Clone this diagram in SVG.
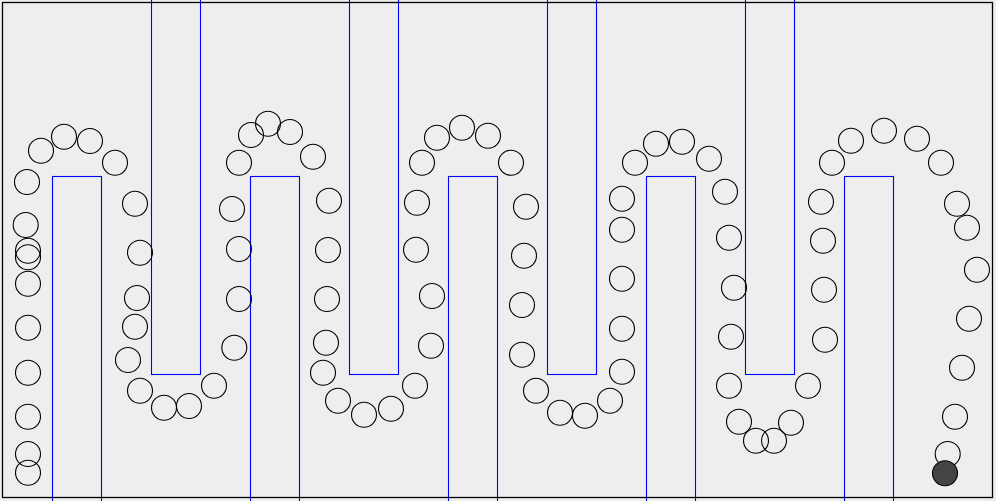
<svg xmlns="http://www.w3.org/2000/svg" width="996" height="501" viewBox="0 0 996 501">
<style>
.wall{fill:none;stroke:#0000ff;stroke-width:1.1}
.c{fill:none;stroke:#000;stroke-width:1.1}
.ball{fill:#444;stroke:#000;stroke-width:1.1}
</style>
<rect x="0" y="0" width="996" height="501" fill="#eeeeee"/>
<g id="walls">
<rect class="wall" x="52.5" y="176.5" width="49" height="330"/>
<rect class="wall" x="250.5" y="176.5" width="49" height="330"/>
<rect class="wall" x="448.5" y="176.5" width="49" height="330"/>
<rect class="wall" x="646.5" y="176.5" width="49" height="330"/>
<rect class="wall" x="844.5" y="176.5" width="49" height="330"/>
<rect class="wall" x="151.5" y="-10" width="49" height="384.5"/>
<rect class="wall" x="349.5" y="-10" width="49" height="384.5"/>
<rect class="wall" x="547.5" y="-10" width="49" height="384.5"/>
<rect class="wall" x="745.5" y="-10" width="49" height="384.5"/>
</g>
<rect id="border" x="2.5" y="2.5" width="990" height="495" fill="none" stroke="#000" stroke-width="1.3"/>
<g id="trail">
<circle class="c" cx="28" cy="472.7" r="12.5"/>
<circle class="c" cx="28" cy="454" r="12.5"/>
<circle class="c" cx="28" cy="416.7" r="12.5"/>
<circle class="c" cx="28" cy="372.7" r="12.5"/>
<circle class="c" cx="28" cy="327.7" r="12.5"/>
<circle class="c" cx="28" cy="283.7" r="12.5"/>
<circle class="c" cx="28" cy="257.3" r="12.5"/>
<circle class="c" cx="28" cy="250.7" r="12.5"/>
<circle class="c" cx="25.7" cy="225" r="12.5"/>
<circle class="c" cx="27" cy="182" r="12.5"/>
<circle class="c" cx="41" cy="150.7" r="12.5"/>
<circle class="c" cx="64" cy="136.7" r="12.5"/>
<circle class="c" cx="90" cy="141" r="12.5"/>
<circle class="c" cx="115" cy="162.7" r="12.5"/>
<circle class="c" cx="135" cy="203.7" r="12.5"/>
<circle class="c" cx="140" cy="252.7" r="12.5"/>
<circle class="c" cx="137" cy="298" r="12.5"/>
<circle class="c" cx="135" cy="326.7" r="12.5"/>
<circle class="c" cx="128" cy="360" r="12.5"/>
<circle class="c" cx="140" cy="390.7" r="12.5"/>
<circle class="c" cx="164" cy="407.7" r="12.5"/>
<circle class="c" cx="189" cy="406" r="12.5"/>
<circle class="c" cx="214" cy="385.7" r="12.5"/>
<circle class="c" cx="234.3" cy="347.7" r="12.5"/>
<circle class="c" cx="239" cy="299" r="12.5"/>
<circle class="c" cx="239" cy="249" r="12.5"/>
<circle class="c" cx="232" cy="209" r="12.5"/>
<circle class="c" cx="239" cy="162.7" r="12.5"/>
<circle class="c" cx="251" cy="135" r="12.5"/>
<circle class="c" cx="268" cy="123.7" r="12.5"/>
<circle class="c" cx="290" cy="132" r="12.5"/>
<circle class="c" cx="313" cy="156.7" r="12.5"/>
<circle class="c" cx="329" cy="200.7" r="12.5"/>
<circle class="c" cx="328" cy="250" r="12.5"/>
<circle class="c" cx="327" cy="299" r="12.5"/>
<circle class="c" cx="326" cy="342.7" r="12.5"/>
<circle class="c" cx="323" cy="372.7" r="12.5"/>
<circle class="c" cx="338" cy="400.7" r="12.5"/>
<circle class="c" cx="364" cy="414.7" r="12.5"/>
<circle class="c" cx="391" cy="408.7" r="12.5"/>
<circle class="c" cx="415" cy="385.7" r="12.5"/>
<circle class="c" cx="431" cy="345.7" r="12.5"/>
<circle class="c" cx="432" cy="296" r="12.5"/>
<circle class="c" cx="416" cy="249.7" r="12.5"/>
<circle class="c" cx="417" cy="202.7" r="12.5"/>
<circle class="c" cx="422" cy="162.7" r="12.5"/>
<circle class="c" cx="437" cy="137.7" r="12.5"/>
<circle class="c" cx="462" cy="127.7" r="12.5"/>
<circle class="c" cx="488" cy="135.7" r="12.5"/>
<circle class="c" cx="511" cy="162.7" r="12.5"/>
<circle class="c" cx="526" cy="206.7" r="12.5"/>
<circle class="c" cx="524" cy="255.7" r="12.5"/>
<circle class="c" cx="522" cy="305" r="12.5"/>
<circle class="c" cx="522" cy="354.7" r="12.5"/>
<circle class="c" cx="536" cy="390.7" r="12.5"/>
<circle class="c" cx="560" cy="412.7" r="12.5"/>
<circle class="c" cx="585" cy="415.7" r="12.5"/>
<circle class="c" cx="610" cy="400.7" r="12.5"/>
<circle class="c" cx="622" cy="371.7" r="12.5"/>
<circle class="c" cx="622" cy="328.7" r="12.5"/>
<circle class="c" cx="622" cy="278.7" r="12.5"/>
<circle class="c" cx="622" cy="229.7" r="12.5"/>
<circle class="c" cx="622" cy="198.7" r="12.5"/>
<circle class="c" cx="635" cy="162.7" r="12.5"/>
<circle class="c" cx="656" cy="143.7" r="12.5"/>
<circle class="c" cx="682" cy="141.7" r="12.5"/>
<circle class="c" cx="709" cy="158.7" r="12.5"/>
<circle class="c" cx="725" cy="191.7" r="12.5"/>
<circle class="c" cx="729" cy="237.7" r="12.5"/>
<circle class="c" cx="734" cy="287.7" r="12.5"/>
<circle class="c" cx="731" cy="336.7" r="12.5"/>
<circle class="c" cx="729" cy="385.7" r="12.5"/>
<circle class="c" cx="739" cy="421.7" r="12.5"/>
<circle class="c" cx="756" cy="440.7" r="12.5"/>
<circle class="c" cx="774" cy="440.7" r="12.5"/>
<circle class="c" cx="791" cy="422.7" r="12.5"/>
<circle class="c" cx="808" cy="385.7" r="12.5"/>
<circle class="c" cx="825" cy="339.7" r="12.5"/>
<circle class="c" cx="824" cy="289.7" r="12.5"/>
<circle class="c" cx="823" cy="240.7" r="12.5"/>
<circle class="c" cx="821" cy="201.7" r="12.5"/>
<circle class="c" cx="832" cy="162.7" r="12.5"/>
<circle class="c" cx="851" cy="140.7" r="12.5"/>
<circle class="c" cx="884" cy="130.7" r="12.5"/>
<circle class="c" cx="917" cy="138.7" r="12.5"/>
<circle class="c" cx="941" cy="162.7" r="12.5"/>
<circle class="c" cx="957" cy="203.7" r="12.5"/>
<circle class="c" cx="967" cy="227.7" r="12.5"/>
<circle class="c" cx="977" cy="269.7" r="12.5"/>
<circle class="c" cx="969" cy="318.7" r="12.5"/>
<circle class="c" cx="962" cy="367.7" r="12.5"/>
<circle class="c" cx="955" cy="416.7" r="12.5"/>
<circle class="c" cx="947.7" cy="454" r="12.5"/>
</g>
<circle id="ball" class="ball" cx="945" cy="473.3" r="12.5"/>
</svg>
